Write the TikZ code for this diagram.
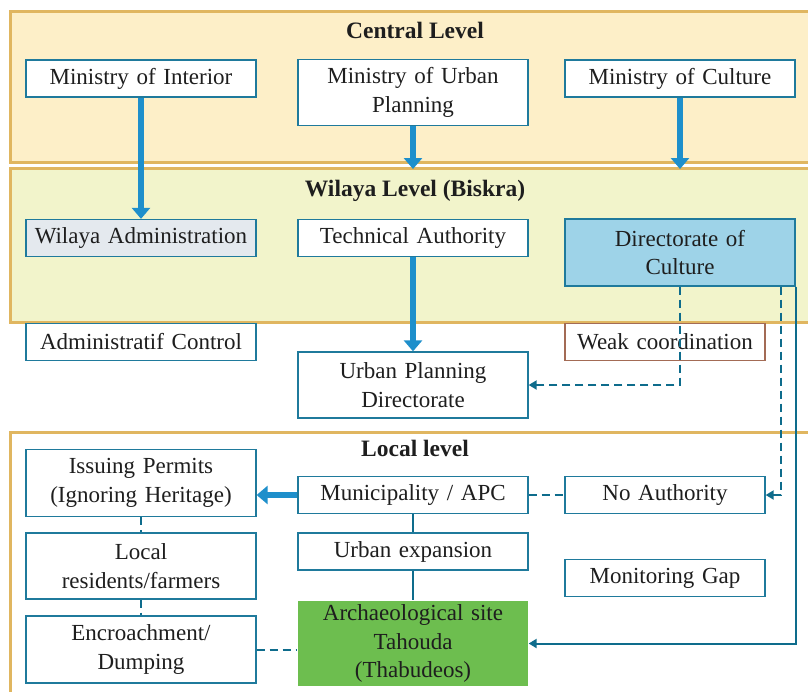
\documentclass[tikz,border=0pt]{standalone}
\usepackage{fontspec}
\setmainfont{Liberation Serif}
\usetikzlibrary{arrows.meta,calc}
\definecolor{panelA}{HTML}{FDEFC8}
\definecolor{panelB}{HTML}{F2F4CB}
\definecolor{panelline}{HTML}{E0B660}
\definecolor{boxline}{HTML}{1F7A9C}
\definecolor{thickblue}{HTML}{1E8FCB}
\definecolor{teal}{HTML}{0E6C8C}
\definecolor{dirfill}{HTML}{9ED3E8}
\definecolor{adminfill}{HTML}{E4E9EE}
\definecolor{sitefill}{HTML}{6DBE4F}
\definecolor{weakline}{HTML}{A36B55}
\definecolor{txt}{HTML}{1E1E1E}
\tikzset{
  panel/.style={draw=panelline,line width=3pt},
  paneltitle/.style={anchor=base,font=\fontsize{23.5}{28}\selectfont\bfseries,text=txt},
  box/.style={draw=boxline,line width=1.3pt,fill=white,text=txt,align=center,inner sep=2pt,
    font=\fontsize{23}{28.5}\selectfont,text width=226pt,minimum height=37pt},
  wbox/.style={box,text width=196pt},
  bigarrow/.style={draw=thickblue,line width=5.5pt,-{Triangle[width=18pt,length=11pt]}},
  dasharrow/.style={draw=teal,line width=2pt,dash pattern=on 8pt off 5pt,-{Triangle[width=9pt,length=8pt]}},
  dashline/.style={draw=teal,line width=2pt,dash pattern=on 8pt off 5pt},
  thinline/.style={draw=teal,line width=1.6pt},
  thinarrow/.style={draw=teal,line width=2pt,-{Triangle[width=9pt,length=8pt]}}
}
\begin{document}
\begin{tikzpicture}[x=1pt,y=-1pt]
\clip (0,0) rectangle (808,691);
\fill[white] (0,0) rectangle (808,691);
% panels
\draw[panel,fill=panelA] (10,11) rectangle (830,162);
\draw[panel,fill=panelB] (10,168) rectangle (830,322);
\draw[panel,fill=white] (10,432) rectangle (830,720);
\node[paneltitle] (t1) at (415,38) {Central Level};
\node[paneltitle] (t2) at (415,196) {Wilaya Level (Biskra)};
\node[paneltitle] (t3) at (415,456) {Local level};
% central
\node[box] (mi) at (141,78.5) {Ministry of Interior};
\node[box,minimum height=66pt] (mu) at (413,92.5) {Ministry of Urban\\Planning};
\node[box] (mc) at (680,78.5) {Ministry of Culture};
% wilaya
\node[box,fill=adminfill] (wa) at (141,238) {Wilaya Administration};
\node[box] (ta) at (413,238) {Technical Authority};
\node[box,fill=dirfill,minimum height=67pt] (dc) at (680,252.5) {Directorate of\\Culture};
% between
\node[box] (ac) at (141,342) {Administratif Control};
\node[wbox,draw=weakline] (wc) at (665,342) {Weak coordination};
\node[box,minimum height=66pt] (upd) at (413,385) {Urban Planning\\Directorate};
% local
\node[box,minimum height=67pt] (ip) at (141,483) {Issuing Permits\\(Ignoring Heritage)};
\node[box] (mun) at (413,495) {Municipality / APC};
\node[wbox] (na) at (665,495) {No Authority};
\node[box,minimum height=66pt] (lr) at (141,566) {Local\\residents/farmers};
\node[box] (ue) at (413,551.5) {Urban expansion};
\node[wbox] (mg) at (665,578) {Monitoring Gap};
\node[box,minimum height=67pt] (enc) at (141,649.5) {Encroachment/\\Dumping};
\node[box,draw=none,fill=sitefill,minimum height=85pt] (arch) at (413,643.5) {Archaeological site\\Tahouda\\(Thabudeos)};
% thick arrows
\coordinate (wtop1) at (413,169);
\coordinate (wtop2) at (680,169);
\draw[bigarrow] (mi.south) -- (wa.north);
\draw[bigarrow] (mu.south) -- (wtop1);
\draw[bigarrow] (mc.south) -- (wtop2);
\draw[bigarrow] (ta.south) -- (upd.north);
\draw[bigarrow] (mun.west) -- (mun.west -| ip.east);
% dashed arrows
\draw[dasharrow] (dc.south) |- (upd.east);
\coordinate (d2) at ($(dc.south east)+(-15,0)$);
\draw[dasharrow] (d2) |- (na.east);
\draw[thinarrow] (dc.south east) |- (arch.east);
% dashed lines
\draw[dashline] (mun.east) -- (na.west);
\draw[dashline] (ip.south) -- (lr.north);
\draw[dashline] (lr.south) -- (enc.north);
\draw[dashline] (enc.east) -- (enc.east -| arch.west);
% solid lines
\draw[thinline] (mun.south) -- (ue.north);
\draw[thinline] (ue.south) -- (arch.north);
\end{tikzpicture}
\end{document}
